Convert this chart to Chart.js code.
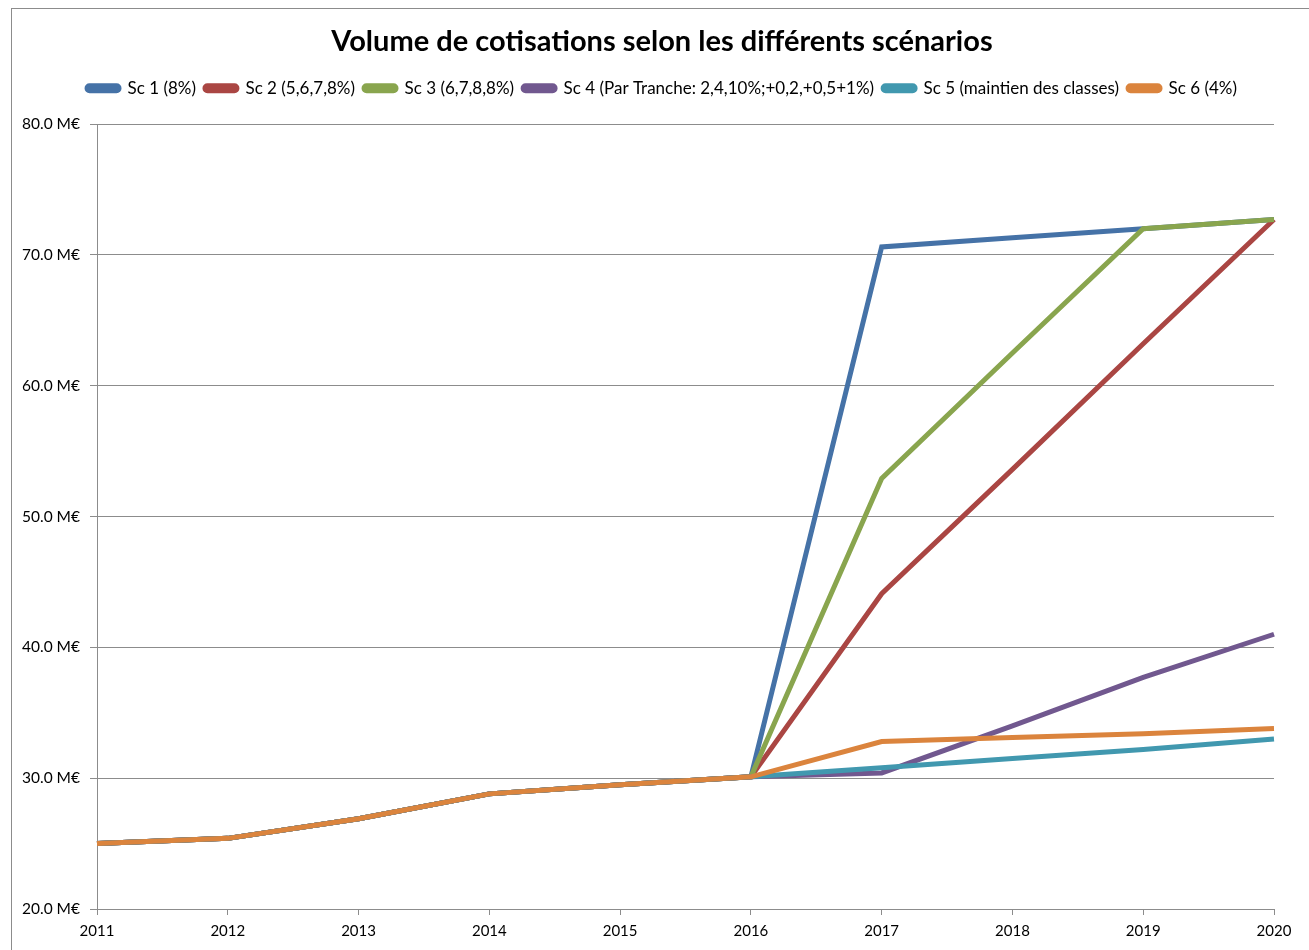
<!DOCTYPE html>
<html>
<head>
<meta charset="utf-8">
<script src="https://cdn.jsdelivr.net/npm/chart.js@4/dist/chart.umd.min.js"></script>
<style>
  html, body { margin: 0; padding: 0; background: #fff; }
  #wrap { position: relative; width: 1309px; height: 950px; overflow: hidden; }
  #frame { position: absolute; left: 11px; top: 8px; right: -4px; bottom: -4px; border: 1px solid #8c8c8c; }
  #box { position: absolute; left: 0; top: 0; width: 1309px; height: 950px; }
</style>
</head>
<body>
<div id="wrap">
  <div id="frame"></div>
  <div id="box"><canvas id="chart"></canvas></div>
</div>
<script>
// Volume de cotisations par scénario (M€)
const years = ['2011', '2012', '2013', '2014', '2015', '2016', '2017', '2018', '2019', '2020'];
const yTicks = [20, 30, 40, 50, 60, 70, 80];

const sc1 = [25.0, 25.4, 26.9, 28.8, 29.5, 30.1, 70.6, 71.3, 72.0, 72.7];
const sc2 = [25.0, 25.4, 26.9, 28.8, 29.5, 30.1, 44.1, 53.6, 63.2, 72.7];
const sc3 = [25.0, 25.4, 26.9, 28.8, 29.5, 30.1, 52.9, 62.5, 72.0, 72.7];
const sc4 = [25.0, 25.4, 26.9, 28.8, 29.5, 30.1, 30.4, 34.0, 37.7, 41.0];
const sc5 = [25.0, 25.4, 26.9, 28.8, 29.5, 30.1, 30.8, 31.5, 32.2, 33.0];
const sc6 = [25.0, 25.4, 26.9, 28.8, 29.5, 30.1, 32.8, 33.1, 33.4, 33.8];

const names = [
  'Sc 1 (8%)',
  'Sc 2 (5,6,7,8%)',
  'Sc 3 (6,7,8,8%)',
  'Sc 4 (Par Tranche: 2,4,10%;+0,2,+0,5+1%)',
  'Sc 5 (maintien des classes)',
  'Sc 6 (4%)'
];
const colors = ['#4572A7', '#AA4643', '#89A54E', '#71588F', '#4198AF', '#DB843D'];
const series = [sc1, sc2, sc3, sc4, sc5, sc6];

const FONT = 'Lato, "Open Sans", sans-serif';

const datasets = series.map((data, i) => ({
  label: names[i],
  data: data,
  borderColor: colors[i],
  backgroundColor: colors[i],
  borderWidth: 5,
  pointRadius: 0,
  tension: 0,
  fill: false,
  // Excel draws later series on top
  order: series.length - 1 - i,
}));

new Chart(document.getElementById('chart'), {
  type: 'line',
  data: { labels: years, datasets },
  options: {
    responsive: true,
    maintainAspectRatio: false,
    animation: false,
    layout: { padding: { left: 15, right: 0, top: 0, bottom: 0 } },
    plugins: {
      title: {
        display: true,
        text: 'Volume de cotisations selon les différents scénarios',
        color: '#000',
        font: { family: FONT, size: 29, weight: 'bold' },
        padding: { top: 24, bottom: 12 },
      },
      legend: {
        position: 'top',
        labels: {
          color: '#000',
          font: { family: FONT, size: 17 },
          boxWidth: 32,
          boxHeight: 5,
          padding: 9,
          useBorderRadius: true,
          borderRadius: 2.5,
          sort: (a, b) => a.datasetIndex - b.datasetIndex,
        },
      },
      // empty spacer between legend and plot area
      subtitle: {
        display: true,
        text: ' ',
        weight: 900,
        font: { size: 1 },
        padding: { top: 0, bottom: 16 },
      },
      tooltip: { enabled: false },
    },
    scales: {
      x: {
        offset: false,
        grid: { display: true, drawOnChartArea: false, drawTicks: true, tickLength: 6, color: '#8c8c8c' },
        border: { color: '#8c8c8c', width: 1 },
        ticks: { color: '#000', font: { family: FONT, size: 15 }, padding: 7, maxRotation: 0, autoSkip: false },
        afterFit: (s) => { s.height = 41; },
      },
      y: {
        min: 20,
        max: 80,
        afterBuildTicks: (s) => { s.ticks = yTicks.map(v => ({ value: v })); },
        grid: { color: '#8c8c8c', lineWidth: 1, tickLength: 7 },
        border: { color: '#8c8c8c', width: 1 },
        ticks: {
          color: '#000',
          font: { family: FONT, size: 15.5 },
          padding: 10,
          callback: (v) => v.toFixed(1) + ' M€',
        },
        afterFit: (s) => { s.width = 82; },
      },
      // blank right margin
      yR: {
        type: 'linear',
        position: 'right',
        display: true,
        grid: { display: false },
        border: { display: false },
        ticks: { display: false },
        afterFit: (s) => { s.width = 35; },
      },
    },
  },
});
</script>
</body>
</html>
